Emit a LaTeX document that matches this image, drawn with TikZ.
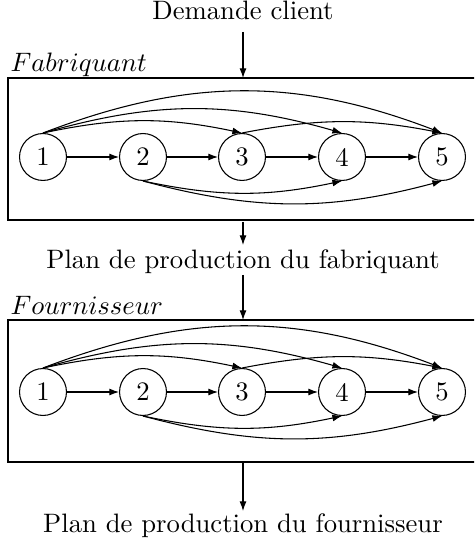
\documentclass[tikz,border=0pt]{standalone}
\usetikzlibrary{arrows.meta}
\begin{document}
\begin{tikzpicture}[x=0.375pt,y=-0.375pt,
  st/.style={circle,draw,minimum size=17.6pt,inner sep=0pt},
  arr/.style={-{Latex[length=3.6pt,width=2.6pt]},thin},
  lbl/.style={anchor=base,inner sep=0pt},
  boxst/.style={draw,thin}]
\clip (0,0) rectangle (474,543);
% texts
\node[lbl] (dem) at (243,20) {Demande client};
\node[lbl,anchor=base west] (fab) at (10,72) {$Fabriquant$};
\node[lbl] (pfab) at (243,269) {Plan de production du fabriquant};
\node[lbl,anchor=base west] (fou) at (10,314) {$Fournisseur$};
\node[lbl] (pfou) at (243,532) {Plan de production du fournisseur};
% boxes
\draw[boxst] (8,78) rectangle (500,220);
\draw[boxst] (8,320) rectangle (500,462);
\coordinate (b1top) at (243,78);
\coordinate (b1bot) at (243,222);
\coordinate (b2top) at (243,320);
\coordinate (b2bot) at (243,463);
\draw[arr] (243,32) -- (b1top);
\draw[arr] (b1bot) -- (243,245);
\draw[arr] (243,275) -- (b2top);
\draw[arr] (b2bot) -- (243,511);
% nodes
\foreach \i/\x in {1/43,2/143,3/242,4/342,5/442}{
  \node[st] (f\i) at (\x,157) {\i};
  \node[st] (s\i) at (\x,392) {\i};
}
\foreach \p in {f,s}{
  \draw[arr] (\p1) -- (\p2);
  \draw[arr] (\p2) -- (\p3);
  \draw[arr] (\p3) -- (\p4);
  \draw[arr] (\p4) -- (\p5);
  \draw[arr] (\p1.north) to[bend left=12] (\p3.north);
  \draw[arr] (\p1.north) to[bend left=16] (\p4.north);
  \draw[arr] (\p1.north) to[bend left=21] (\p5.north);
  \draw[arr] (\p3.north) to[bend left=11] (\p5.north);
  \draw[arr] (\p2.south) to[bend right=12] (\p4.south);
  \draw[arr] (\p2.south) to[bend right=15] (\p5.south);
}
\end{tikzpicture}
\end{document}
